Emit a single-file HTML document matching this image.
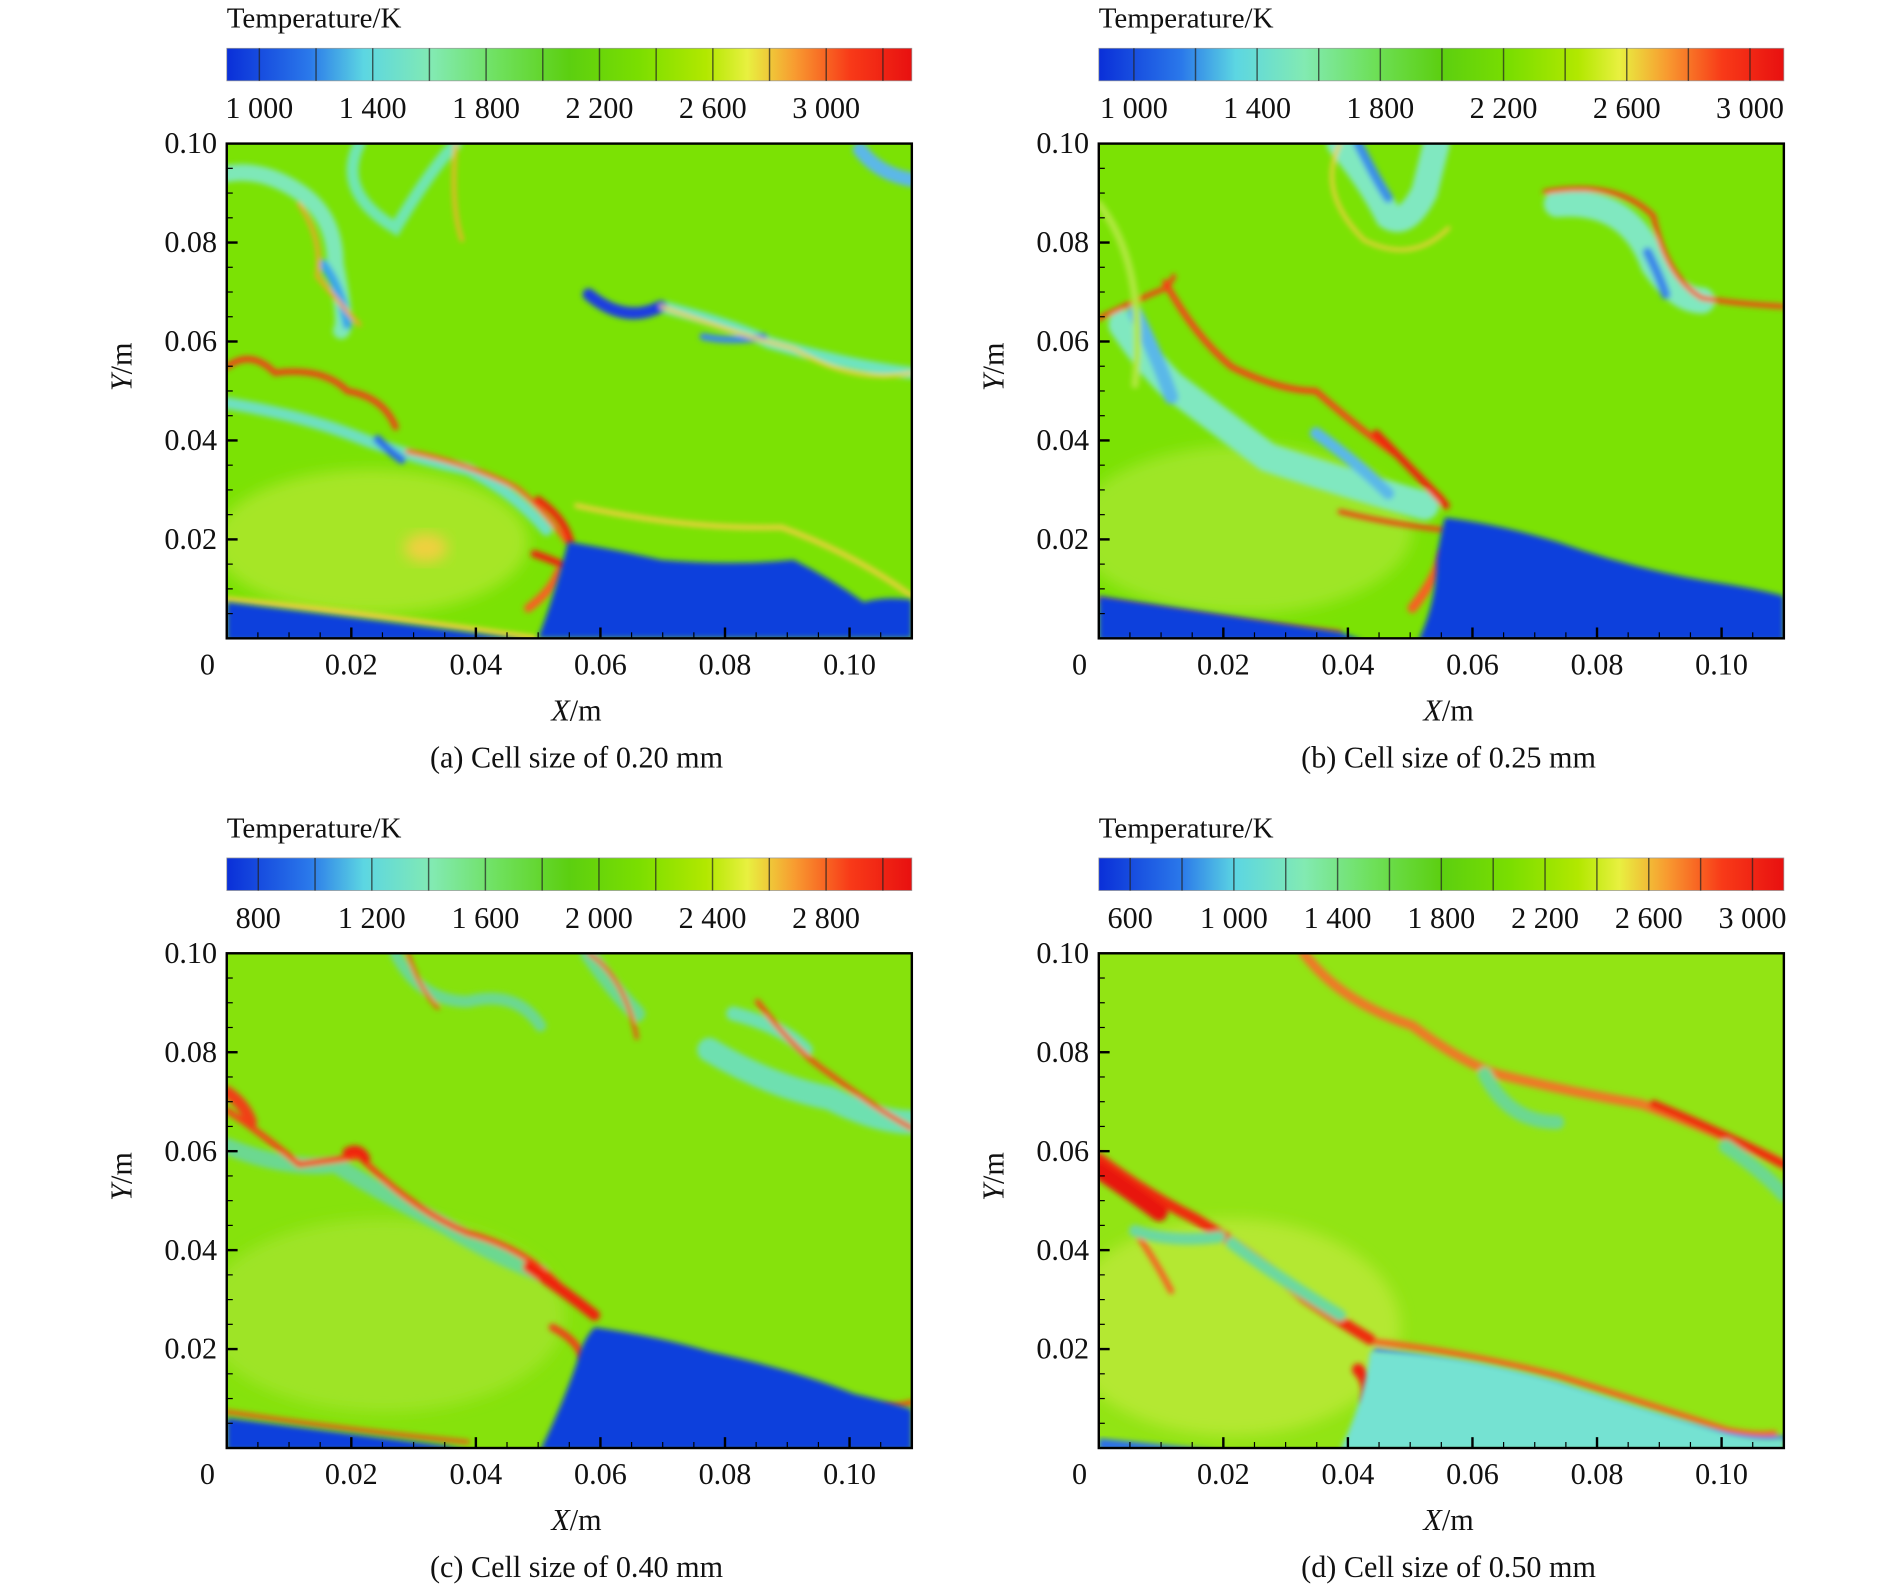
<!DOCTYPE html>
<html><head><meta charset="utf-8">
<style>
html,body{margin:0;padding:0;background:#fff}
svg{display:block}
text{font-family:"Liberation Serif",serif;fill:#111}
</style></head>
<body>
<svg id="fig" width="1890" height="1588" viewBox="0 0 1567 1316" preserveAspectRatio="none" xmlns="http://www.w3.org/2000/svg">
<defs>
<linearGradient id="cmap" x1="0" x2="1" y1="0" y2="0">
<stop offset="0" stop-color="#0a2fd8"/><stop offset="0.12" stop-color="#2a78ea"/>
<stop offset="0.2" stop-color="#5cd6e2"/><stop offset="0.3" stop-color="#82eab2"/>
<stop offset="0.4" stop-color="#6ee05a"/><stop offset="0.5" stop-color="#5ccf10"/>
<stop offset="0.6" stop-color="#7ade00"/><stop offset="0.7" stop-color="#b2e800"/>
<stop offset="0.76" stop-color="#e8f040"/><stop offset="0.83" stop-color="#f89a30"/>
<stop offset="0.91" stop-color="#f83a18"/><stop offset="1" stop-color="#e81010"/>
</linearGradient>
<filter id="bl" x="-20%" y="-20%" width="140%" height="140%"><feGaussianBlur stdDeviation="2.2"/></filter>
<filter id="bl2" x="-20%" y="-20%" width="140%" height="140%"><feGaussianBlur stdDeviation="6"/></filter>
<clipPath id="pc"><rect x="0" y="0" width="568" height="410"/></clipPath>
</defs>

<g transform="translate(188,119)" clip-path="url(#pc)">
<rect width="568" height="410" fill="#7be204"/>
<ellipse cx="120" cy="330" rx="130" ry="60" fill="#a6e628" filter="url(#bl2)"/>
<ellipse cx="165" cy="335" rx="18" ry="12" fill="#f0d040" filter="url(#bl2)"/>
<g filter="url(#bl)" fill="none" stroke-linecap="round">
<path d="M0,25 Q30,20 60,40 T90,100 Q100,150 95,155" stroke="#7ee8b8" stroke-width="14"/>
<path d="M80,100 Q95,120 100,150" stroke="#3aa8e8" stroke-width="8"/>
<path d="M110,0 Q90,40 140,70 Q170,20 190,0" stroke="#70e6b0" stroke-width="10"/>
<path d="M300,125 Q330,150 360,135 Q420,150 450,165 Q520,185 568,190" stroke="#6ee4c0" stroke-width="10"/>
<path d="M300,125 Q330,150 360,135" stroke="#1a3ee0" stroke-width="10"/>
<path d="M395,160 Q420,165 445,160" stroke="#3a88e8" stroke-width="6"/>
<path d="M525,5 Q540,25 568,30" stroke="#5cb8e8" stroke-width="12"/>
<path d="M0,215 Q60,225 100,240 Q150,260 200,270 Q240,290 265,320" stroke="#6ee0c0" stroke-width="10"/>
<path d="M125,245 Q135,255 145,262" stroke="#2a70e8" stroke-width="7"/>
<path d="M0,185 Q20,170 40,190 Q80,185 100,205 Q130,210 140,235" stroke="#f04018" stroke-width="5"/>
<path d="M150,255 Q200,265 240,285 Q260,300 282,330" stroke="#f86020" stroke-width="4"/>
<path d="M258,295 Q280,310 285,330" stroke="#f02010" stroke-width="6"/>
<path d="M255,340 Q270,345 280,350" stroke="#f02010" stroke-width="6"/>
<path d="M250,385 Q270,370 275,355" stroke="#f86020" stroke-width="7"/>
<path d="M60,50 Q80,80 75,110 Q100,140 110,150" stroke="#f8a030" stroke-width="3"/>
<path d="M290,300 Q380,320 460,318 Q520,340 568,375" stroke="#f0d040" stroke-width="4"/>
<path d="M360,135 Q430,160 470,170 Q520,200 568,190" stroke="#f0d040" stroke-width="3"/>
<path d="M190,0 Q185,50 195,80" stroke="#f8b030" stroke-width="3"/>
<path d="M0,378 Q120,390 255,410" stroke="#f0d040" stroke-width="5"/>
</g>
<path d="M258,410 Q270,380 283,330 Q330,338 360,345 Q420,350 470,345 Q500,360 528,380 Q545,375 568,378 L568,410 Z" fill="#0a3fdc" filter="url(#bl)"/>
<path d="M0,380 Q100,392 200,405 L250,412 L0,412 Z" fill="#0a3fdc" filter="url(#bl)"/>
</g>

<g transform="translate(911,119)" clip-path="url(#pc)">
<rect width="568" height="410" fill="#7be204"/>
<ellipse cx="120" cy="320" rx="140" ry="70" fill="#9ee628" filter="url(#bl2)"/>
<g filter="url(#bl)" fill="none" stroke-linecap="round">
<path d="M20,150 Q40,180 60,200 Q100,230 140,260 Q200,280 270,300" stroke="#80e8c0" stroke-width="24"/>
<path d="M30,140 Q50,180 60,210" stroke="#5ab8e8" stroke-width="12"/>
<path d="M180,240 Q215,265 240,290" stroke="#5ab8e8" stroke-width="10"/>
<path d="M200,0 Q225,30 240,60 Q255,70 270,40 L280,0" stroke="#80e8c0" stroke-width="22"/>
<path d="M215,0 Q230,30 240,45" stroke="#3a90e8" stroke-width="8"/>
<path d="M380,50 Q440,45 460,100 Q480,130 500,130" stroke="#80e8c0" stroke-width="22"/>
<path d="M455,90 Q465,110 470,125" stroke="#3a88e8" stroke-width="8"/>
<path d="M0,145 Q30,130 55,120 Q62,112 62,110" stroke="#f83a18" stroke-width="4"/>
<path d="M55,115 Q80,160 110,185 Q150,205 180,205 Q220,240 250,260 Q270,280 285,295" stroke="#f84018" stroke-width="5"/>
<path d="M230,240 Q260,270 288,300" stroke="#f02010" stroke-width="6"/>
<path d="M200,305 Q240,315 285,320" stroke="#f04018" stroke-width="4"/>
<path d="M260,385 Q280,360 285,340" stroke="#f86020" stroke-width="8"/>
<path d="M370,40 Q430,30 460,60 Q470,110 500,128 Q530,133 568,135" stroke="#f84018" stroke-width="4"/>
<path d="M0,378 Q100,395 200,405" stroke="#f84018" stroke-width="3"/>
<path d="M200,0 Q180,40 220,80 Q260,100 290,70" stroke="#f0d040" stroke-width="3"/>
<path d="M0,50 Q40,100 30,200" stroke="#b0e840" stroke-width="6"/>
</g>
<path d="M265,412 Q280,380 280,345 Q283,325 287,310 Q330,315 380,330 Q450,355 520,365 Q550,370 568,375 L568,412 Z" fill="#0a3fdc" filter="url(#bl)"/>
<path d="M0,375 Q100,390 200,405 L220,412 L0,412 Z" fill="#0a3fdc" filter="url(#bl)"/>
</g>

<g transform="translate(188,790)" clip-path="url(#pc)">
<rect width="568" height="410" fill="#86e20c"/>
<ellipse cx="130" cy="300" rx="150" ry="80" fill="#9ee428" filter="url(#bl2)"/>
<g filter="url(#bl)" fill="none" stroke-linecap="round">
<path d="M0,160 Q50,180 90,175 Q130,200 180,225 Q220,250 260,265" stroke="#6cd890" stroke-width="14"/>
<path d="M140,0 Q160,40 200,40 Q240,30 260,60" stroke="#6cd890" stroke-width="10"/>
<path d="M300,0 Q320,30 340,50" stroke="#6cd890" stroke-width="14"/>
<path d="M400,80 Q450,110 500,120 Q540,140 568,140" stroke="#6ee0b0" stroke-width="20"/>
<path d="M420,50 Q460,60 480,80" stroke="#6ee0b0" stroke-width="12"/>
<path d="M0,130 Q30,150 60,175 Q100,170 110,168 Q150,210 200,232 Q250,245 280,280 Q295,295 305,300" stroke="#f84018" stroke-width="5"/>
<path d="M0,115 Q15,125 20,140" stroke="#f04018" stroke-width="10"/>
<path d="M250,260 Q280,280 305,300" stroke="#f02010" stroke-width="9"/>
<path d="M100,165 Q110,160 115,170" stroke="#f02010" stroke-width="8"/>
<path d="M270,310 Q290,320 295,335" stroke="#f04018" stroke-width="6"/>
<path d="M150,0 Q160,30 175,45" stroke="#f84018" stroke-width="3"/>
<path d="M300,0 Q330,20 340,70" stroke="#f84018" stroke-width="3"/>
<path d="M440,40 Q470,80 500,100 Q540,130 568,145" stroke="#f84018" stroke-width="4"/>
<path d="M0,380 Q100,395 200,405" stroke="#f84018" stroke-width="3"/>
<path d="M545,375 Q560,375 568,372" stroke="#f84018" stroke-width="4"/>
</g>
<path d="M260,412 Q280,370 290,340 Q295,320 305,310 Q360,318 400,330 Q470,345 520,365 Q550,372 568,378 L568,412 Z" fill="#0a3fdc" filter="url(#bl)"/>
<path d="M0,385 Q100,398 180,408 L200,412 L0,412 Z" fill="#0a3fdc" filter="url(#bl)"/>
</g>

<g transform="translate(911,790)" clip-path="url(#pc)">
<rect width="568" height="410" fill="#92e414"/>
<ellipse cx="110" cy="310" rx="140" ry="90" fill="#b4e830" filter="url(#bl2)"/>
<g filter="url(#bl)" fill="none" stroke-linecap="round">
<path d="M170,0 Q200,40 260,60 Q300,90 330,100 Q390,115 450,125 Q520,150 568,175" stroke="#f07828" stroke-width="8"/>
<path d="M460,125 Q520,150 568,175" stroke="#f02a10" stroke-width="7"/>
<path d="M0,170 Q40,200 80,220 Q130,250 170,285 Q200,305 225,320" stroke="#f02a10" stroke-width="9"/>
<path d="M0,180 Q30,200 50,215" stroke="#e81810" stroke-width="14"/>
<path d="M230,322 Q300,330 380,350 Q460,375 520,395 Q545,400 560,398" stroke="#f86020" stroke-width="5"/>
<path d="M230,330 Q300,340 380,360 Q450,385 520,400 Q550,405 568,402" stroke="#3a78e8" stroke-width="5"/>
<path d="M215,345 Q225,355 222,370" stroke="#f02010" stroke-width="10"/>
<path d="M30,230 Q50,260 60,280" stroke="#f86020" stroke-width="5"/>
<path d="M110,240 Q150,270 200,300" stroke="#6cd8a0" stroke-width="10"/>
<path d="M30,230 Q60,240 100,235" stroke="#6cd8a0" stroke-width="10"/>
<path d="M320,100 Q340,140 380,140" stroke="#6cd890" stroke-width="12"/>
<path d="M520,160 Q550,180 568,200" stroke="#6cd890" stroke-width="12"/>
</g>
<path d="M200,412 Q220,370 225,330 Q300,332 380,355 Q460,380 520,398 Q550,405 568,402 L568,412 Z" fill="#74e2d2" filter="url(#bl)"/>
<path d="M0,402 Q60,408 100,412 L0,412 Z" fill="#2a70e8" filter="url(#bl)"/>
</g>

<g id="axes"></g>
</svg>
<script>
// colorbar data
const cbMinA = 885, cbMaxA = 3302, cbTicksA = [1000,1400,1800,2200,2600,3000];
const cbMinB = 886, cbMaxB = 3110, cbTicksB = [1000,1400,1800,2200,2600,3000];
const cbMinC = 689, cbMaxC = 3102, cbTicksC = [800,1200,1600,2000,2400,2800];
const cbMinD = 479, cbMaxD = 3121, cbTicksD = [600,1000,1400,1800,2200,2600,3000];
const xTicks = [0.02,0.04,0.06,0.08,0.10];
const yTicks = [0.02,0.04,0.06,0.08,0.10];
const captions = ["(a) Cell size of 0.20 mm","(b) Cell size of 0.25 mm","(c) Cell size of 0.40 mm","(d) Cell size of 0.50 mm"];

const NS="http://www.w3.org/2000/svg";
const root=document.getElementById('axes');
function mk(tag,attrs,parent){const e=document.createElementNS(NS,tag);for(const k in attrs)e.setAttribute(k,attrs[k]);(parent||root).appendChild(e);return e;}
function fmt(v){const s=String(v);return s.length>3?s.slice(0,s.length-3)+" "+s.slice(-3):s;}

const panels=[
 {x:188,y:0,min:cbMinA,max:cbMaxA,ticks:cbTicksA,id:'a'},
 {x:911,y:0,min:cbMinB,max:cbMaxB,ticks:cbTicksB,id:'b'},
 {x:188,y:671,min:cbMinC,max:cbMaxC,ticks:cbTicksC,id:'c'},
 {x:911,y:671,min:cbMinD,max:cbMaxD,ticks:cbTicksD,id:'d'}];
const W=568,H=410;
panels.forEach((p,i)=>{
 const g=mk('g',{});
 
 
 const t=mk('text',{x:p.x,y:p.y+23,'font-size':24},g);t.textContent='Temperature/K';
 
 
 const cb=mk('rect',{x:p.x,y:p.y+40,width:W,height:27,fill:'url(#cmap)',stroke:'#999','stroke-width':0.6},g);
 
 
 const cx=v=>p.x+(v-p.min)/(p.max-p.min)*W;
 const step=(p.ticks[1]-p.ticks[0])/2;
 for(let v=p.ticks[0]-step*Math.floor((p.ticks[0]-p.min)/step);v<p.max;v+=step){
  if(v<=p.min)continue;
  const l=mk('line',{x1:cx(v),x2:cx(v),y1:p.y+40,y2:p.y+67,stroke:'#222','stroke-width':1.2,opacity:0.7},g);
  
  
 }
 p.ticks.forEach(v=>{
  const tt=mk('text',{x:cx(v),y:p.y+98,'font-size':25,'text-anchor':'middle'},g);tt.textContent=fmt(v);
  
  
 });
 const py=p.y+119;
 const fr=mk('rect',{x:p.x,y:py,width:W,height:H,fill:'none',stroke:'#000','stroke-width':2},g);
 
 
 const X=v=>p.x+v/0.11*W, Y=v=>py+H-v/0.10*H;
 for(let k=1;k<22;k++){const v=k*0.005,maj=k%4===0;
  const tk=mk('line',{x1:X(v),x2:X(v),y1:py+H,y2:py+H-(maj?9:5),stroke:'#000','stroke-width':maj?2:1},g);
  
  }
 for(let k=1;k<20;k++){const v=k*0.005,maj=k%4===0;
  const tk=mk('line',{x1:p.x,x2:p.x+(maj?9:5),y1:Y(v),y2:Y(v),stroke:'#000','stroke-width':maj?2:1},g);
  
  }
 xTicks.forEach(v=>{const tt=mk('text',{x:X(v),y:py+H+30,'font-size':25,'text-anchor':'middle'},g);tt.textContent=v.toFixed(2);
  
  });
 const z=mk('text',{x:p.x-16,y:py+H+30,'font-size':25,'text-anchor':'middle'},g);z.textContent='0';
 
 
 yTicks.forEach(v=>{const tt=mk('text',{x:p.x-8,y:Y(v)+8,'font-size':25,'text-anchor':'end'},g);tt.textContent=v.toFixed(2);
  
  });
 const xl=mk('text',{x:p.x+W/2+6,y:py+H+68,'font-size':25,'text-anchor':'middle'},g);
 xl.innerHTML='<tspan font-style="italic">X</tspan>/m';
 
 
 const yl=mk('text',{x:0,y:0,'font-size':25,'text-anchor':'middle',transform:`translate(${p.x-79},${py+H/2-20}) rotate(-90)`},g);
 yl.innerHTML='<tspan font-style="italic">Y</tspan>/m';
 
 
 const cp=mk('text',{x:p.x+W/2+6,y:py+H+107,'font-size':25,'text-anchor':'middle'},g);cp.textContent=captions[i];
 
 
});
</script>
</body></html>
